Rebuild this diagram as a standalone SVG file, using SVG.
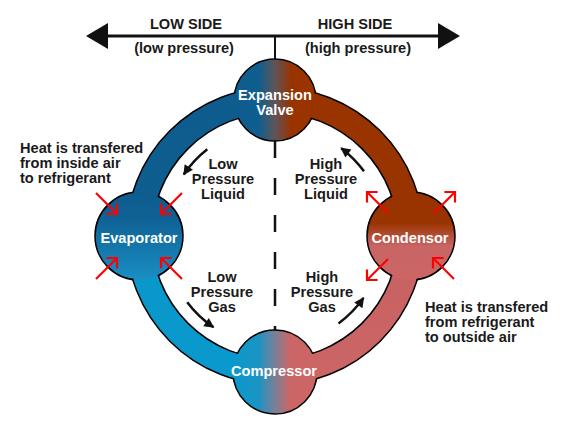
<svg xmlns="http://www.w3.org/2000/svg" width="578" height="429" viewBox="0 0 578 429">
<style>
  text { font-family: "Liberation Sans", Arial, sans-serif; font-weight: bold; font-size: 14.6px; fill: #1a1a1a; }
  .c { text-anchor: middle; }
  .w { fill: #ffffff; text-anchor: middle; }
  .red { stroke: #ff0000; stroke-width: 2.2; fill: none; marker-end: url(#redHead); }
  .blk { stroke: #111; stroke-width: 2.5; fill: none; marker-end: url(#blkHead); }
  .outline { fill: none; stroke: #000; stroke-width: 1.5; mask: url(#noPipe); }
</style>
<defs>
  <linearGradient id="gLeft" gradientUnits="userSpaceOnUse" x1="0" y1="100" x2="0" y2="372">
    <stop offset="0" stop-color="#0e5c8d"/>
    <stop offset="0.45" stop-color="#0e5e90"/>
    <stop offset="0.62" stop-color="#0a98cb"/>
    <stop offset="1" stop-color="#0a99cc"/>
  </linearGradient>
  <linearGradient id="gRight" gradientUnits="userSpaceOnUse" x1="0" y1="100" x2="0" y2="372">
    <stop offset="0" stop-color="#993300"/>
    <stop offset="0.45" stop-color="#993300"/>
    <stop offset="0.6" stop-color="#c86262"/>
    <stop offset="1" stop-color="#cc6666"/>
  </linearGradient>
  <linearGradient id="gTop" x1="0" y1="0" x2="1" y2="0">
    <stop offset="0" stop-color="#0e5c8d"/>
    <stop offset="0.3" stop-color="#0e5e90"/>
    <stop offset="0.5" stop-color="#5f5458"/>
    <stop offset="0.7" stop-color="#993300"/>
    <stop offset="1" stop-color="#993300"/>
  </linearGradient>
  <linearGradient id="gBot" x1="0" y1="0" x2="1" y2="0">
    <stop offset="0" stop-color="#0a99cc"/>
    <stop offset="0.3" stop-color="#1a94c4"/>
    <stop offset="0.5" stop-color="#7a7f98"/>
    <stop offset="0.68" stop-color="#cc6666"/>
    <stop offset="1" stop-color="#cc6666"/>
  </linearGradient>
  <linearGradient id="gEvap" x1="0" y1="0" x2="0" y2="1">
    <stop offset="0" stop-color="#0e5c8d"/>
    <stop offset="0.3" stop-color="#0f6195"/>
    <stop offset="1" stop-color="#1a8fc4"/>
  </linearGradient>
  <linearGradient id="gCond" x1="0" y1="0" x2="0" y2="1">
    <stop offset="0" stop-color="#993300"/>
    <stop offset="0.35" stop-color="#993300"/>
    <stop offset="0.62" stop-color="#c96565"/>
    <stop offset="1" stop-color="#cc6666"/>
  </linearGradient>
  <mask id="noPipe" maskUnits="userSpaceOnUse" x="0" y="0" width="578" height="429">
    <rect x="0" y="0" width="578" height="429" fill="#fff"/>
    <circle cx="275" cy="236" r="136" fill="none" stroke="#000" stroke-width="24"/>
  </mask>
  <marker id="redHead" markerUnits="userSpaceOnUse" markerWidth="20" markerHeight="20" viewBox="-10 -10 20 20" refX="0" refY="0" orient="auto" overflow="visible">
    <path d="M -7.5 -7.5 L 0 0 L -7.5 7.5" fill="none" stroke="#ff0000" stroke-width="2.2"/>
  </marker>
  <marker id="blkHead" markerUnits="userSpaceOnUse" markerWidth="20" markerHeight="20" viewBox="-10 -10 20 20" refX="0" refY="0" orient="auto" overflow="visible">
    <path d="M -9 -5 L 1 0 L -9 5 Z" fill="#111"/>
  </marker>
</defs>

<rect x="0" y="0" width="578" height="429" fill="#ffffff"/>

<g id="axis">
  <line x1="100" y1="36" x2="446" y2="36" stroke="#111" stroke-width="3"/>
  <polygon points="86,36 108,23 108,49" fill="#111"/>
  <polygon points="460,36 438,23 438,49" fill="#111"/>
  <line x1="275" y1="36" x2="275" y2="60" stroke="#111" stroke-width="2"/>
  <line x1="275" y1="141" x2="275" y2="334" stroke="#111" stroke-width="2.5" stroke-dasharray="17 20"/>
  <text class="c" x="186" y="29">LOW SIDE</text>
  <text class="c" x="184" y="53">(low pressure)</text>
  <text class="c" x="355" y="29">HIGH SIDE</text>
  <text class="c" x="358" y="53">(high pressure)</text>
</g>

<g id="connectors">
  <circle cx="275" cy="236" r="136" fill="none" stroke="#000" stroke-width="27"/>
  <path d="M 275 100 A 136 136 0 0 0 275 372" fill="none" stroke="url(#gLeft)" stroke-width="24"/>
  <path d="M 275 100 A 136 136 0 0 1 275 372" fill="none" stroke="url(#gRight)" stroke-width="24"/>
  <path class="blk" d="M 207.3 149.3 A 110 110 0 0 0 183.8 174.5"/>
  <path class="blk" d="M 187.2 302.2 A 110 110 0 0 0 213.5 327.2"/>
  <path class="blk" d="M 338.5 323.4 A 108 108 0 0 0 363.5 297.9"/>
  <path class="blk" d="M 364 171.3 A 110 110 0 0 0 341.2 148.2"/>
</g>

<g id="expansion-valve">
  <circle cx="275" cy="100" r="41" fill="url(#gTop)"/>
  <circle class="outline" cx="275" cy="100" r="41"/>
  <text class="w" x="275" y="100">Expansion</text>
  <text class="w" x="275" y="115">Valve</text>
</g>

<g id="compressor">
  <circle cx="275" cy="372" r="42" fill="url(#gBot)"/>
  <circle class="outline" cx="275" cy="372" r="42"/>
  <text class="w" x="274" y="376">Compressor</text>
</g>

<g id="evaporator">
  <circle cx="139" cy="236" r="44" fill="url(#gEvap)"/>
  <circle class="outline" cx="139" cy="236" r="44"/>
  <text class="w" x="139" y="243">Evaporator</text>
  <line class="red" x1="96" y1="193" x2="117" y2="214"/>
  <line class="red" x1="182" y1="193" x2="161" y2="214"/>
  <line class="red" x1="96" y1="279" x2="117" y2="258"/>
  <line class="red" x1="182" y1="279" x2="161" y2="258"/>
</g>

<g id="condensor">
  <circle cx="411" cy="236" r="44" fill="url(#gCond)"/>
  <circle class="outline" cx="411" cy="236" r="44"/>
  <text class="w" x="410" y="243">Condensor</text>
  <line class="red" x1="388" y1="213" x2="367" y2="192"/>
  <line class="red" x1="434" y1="213" x2="455" y2="192"/>
  <line class="red" x1="388" y1="259" x2="367" y2="280"/>
  <line class="red" x1="454" y1="279" x2="433" y2="258"/>
</g>

<g id="label-heat-in">
  <text x="20" y="153">Heat is transfered</text>
  <text x="20" y="168">from inside air</text>
  <text x="20" y="183">to refrigerant</text>
</g>
<g id="label-heat-out">
  <text x="425" y="312">Heat is transfered</text>
  <text x="425" y="327">from refrigerant</text>
  <text x="425" y="342">to outside air</text>
</g>
<g id="label-lpl">
  <text class="c" x="223" y="168.5">Low</text>
  <text class="c" x="223" y="183.5">Pressure</text>
  <text class="c" x="223" y="198.5">Liquid</text>
</g>
<g id="label-hpl">
  <text class="c" x="326" y="168.5">High</text>
  <text class="c" x="326" y="183.5">Pressure</text>
  <text class="c" x="326" y="198.5">Liquid</text>
</g>
<g id="label-lpg">
  <text class="c" x="222" y="282">Low</text>
  <text class="c" x="222" y="297">Pressure</text>
  <text class="c" x="222" y="312">Gas</text>
</g>
<g id="label-hpg">
  <text class="c" x="322" y="282">High</text>
  <text class="c" x="322" y="297">Pressure</text>
  <text class="c" x="322" y="312">Gas</text>
</g>
</svg>
